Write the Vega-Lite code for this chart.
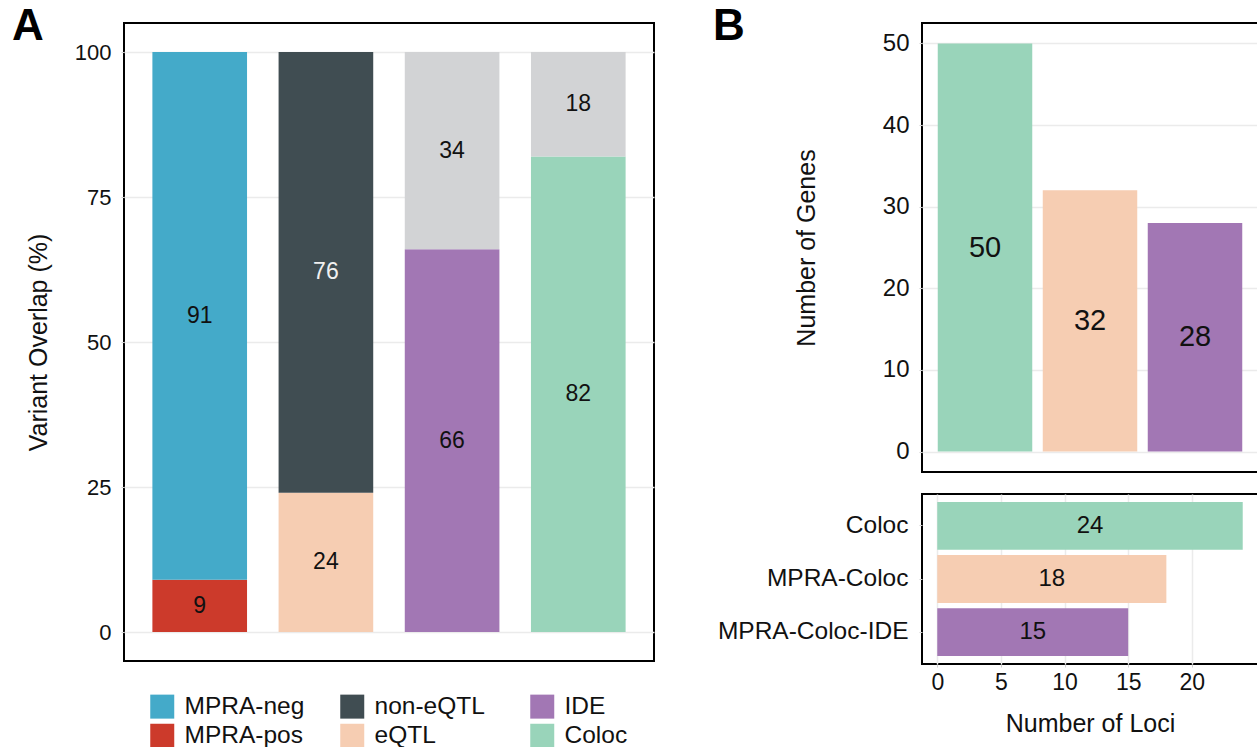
{
  "$schema": "https://vega.github.io/schema/vega-lite/v6.json",
  "background": "white",
  "padding": {"left": 11, "top": 4, "right": 0, "bottom": 0},
  "config": {
    "font": "Liberation Sans",
    "view": {"stroke": "black", "strokeWidth": 2},
    "axis": {
      "domain": false,
      "gridColor": "#EBEBEB",
      "gridWidth": 1.5,
      "tickColor": "#D0D0D0",
      "tickSize": 3,
      "labelColor": "#111111",
      "titleColor": "#111111",
      "titleFontWeight": "normal",
      "labelFont": "Liberation Sans",
      "titleFont": "Liberation Sans"
    },
    "title": {"fontSize": 44, "fontWeight": "bold", "anchor": "start", "frame": "group", "font": "Liberation Sans", "offset": 0, "color": "black"},
    "legend": {"labelFont": "Liberation Sans", "labelColor": "#111111", "layout": {"bottom": {"anchor": "middle"}}}
  },
  "datasets": {
    "overlap": [
      {"group": "MPRA", "cat": "MPRA-pos", "part": "lower", "value": 9},
      {"group": "MPRA", "cat": "MPRA-neg", "part": "upper", "value": 91},
      {"group": "eQTL", "cat": "eQTL", "part": "lower", "value": 24},
      {"group": "eQTL", "cat": "non-eQTL", "part": "upper", "value": 76},
      {"group": "IDE", "cat": "IDE", "part": "lower", "value": 66},
      {"group": "IDE", "cat": "IDE-rest", "part": "upper", "value": 34},
      {"group": "Coloc", "cat": "Coloc", "part": "lower", "value": 82},
      {"group": "Coloc", "cat": "Coloc-rest", "part": "upper", "value": 18}
    ],
    "genes": [
      {"set": "Coloc", "n": 50},
      {"set": "MPRA-Coloc", "n": 32},
      {"set": "MPRA-Coloc-IDE", "n": 28}
    ],
    "loci": [
      {"set": "Coloc", "n": 24},
      {"set": "MPRA-Coloc", "n": 18},
      {"set": "MPRA-Coloc-IDE", "n": 15}
    ]
  },
  "resolve": {"scale": {"color": "independent"}, "legend": {"color": "independent"}},
  "spacing": 57,
  "hconcat": [
    {
      "width": 530,
      "height": 638,
      "title": {"text": "A", "dx": -112, "dy": 30},
      "data": {"name": "overlap"},
      "transform": [
        {"stack": "value", "groupby": ["group"], "sort": [{"field": "part"}], "as": ["lo", "hi"]},
        {"calculate": "(datum.lo + datum.hi) / 2", "as": "mid"}
      ],
      "encoding": {
        "x": {"field": "group", "type": "nominal", "sort": null, "axis": null,
              "scale": {"paddingInner": 0.25, "paddingOuter": 0.225}}
      },
      "layer": [
        {
          "mark": {"type": "bar"},
          "encoding": {
            "y": {"field": "lo", "type": "quantitative",
                  "scale": {"domain": [-5, 105], "nice": false, "zero": false},
                  "axis": {"values": [0, 25, 50, 75, 100], "title": "Variant Overlap (%)",
                           "titleFontSize": 25, "labelFontSize": 22, "labelPadding": 10, "titlePadding": 23}},
            "y2": {"field": "hi"},
            "color": {"field": "cat", "type": "nominal",
                      "scale": {"domain": ["MPRA-neg", "non-eQTL", "IDE", "MPRA-pos", "eQTL", "Coloc", "IDE-rest", "Coloc-rest"],
                                "range": ["#44AAC9", "#404D52", "#A277B4", "#CC3A2B", "#F6CDB2", "#99D4BA", "#D2D3D5", "#D2D3D5"]},
                      "legend": {"title": null, "orient": "bottom", "direction": "horizontal", "columns": 3,
                                 "values": ["MPRA-neg", "non-eQTL", "IDE", "MPRA-pos", "eQTL", "Coloc"],
                                 "symbolType": "square", "symbolSize": 576, "symbolStrokeWidth": 0, "symbolOpacity": 1,
                                 "labelFontSize": 24.5, "labelOffset": 10, "columnPadding": 35, "rowPadding": 3.5,
                                 "gridAlign": "all", "offset": 33}}
          }
        },
        {
          "mark": {"type": "text", "fontSize": 23, "baseline": "middle"},
          "encoding": {
            "y": {"field": "mid", "type": "quantitative"},
            "text": {"field": "value", "type": "quantitative"},
            "color": {"condition": {"test": "datum.cat === 'non-eQTL'", "value": "#F0F0F0"}, "value": "#111111"}
          }
        }
      ]
    },
    {
      "spacing": 20,
      "vconcat": [
        {
          "width": 336,
          "height": 449,
          "title": {"text": "B", "dx": -209, "dy": 30},
          "data": {"name": "genes"},
          "transform": [{"calculate": "datum.n / 2", "as": "mid"}],
          "encoding": {
            "x": {"field": "set", "type": "nominal", "sort": null, "axis": null,
                  "scale": {"paddingInner": 0.1, "paddingOuter": 0.15}}
          },
          "layer": [
            {
              "mark": {"type": "bar"},
              "encoding": {
                "y": {"field": "n", "type": "quantitative",
                      "scale": {"domain": [-2.5, 52.5], "nice": false, "zero": false},
                      "axis": {"values": [0, 10, 20, 30, 40, 50], "title": "Number of Genes",
                               "titleFontSize": 25, "labelFontSize": 24, "labelPadding": 10, "titlePadding": 63}},
                "y2": {"datum": 0},
                "color": {"field": "set", "type": "nominal", "sort": null,
                          "scale": {"domain": ["Coloc", "MPRA-Coloc", "MPRA-Coloc-IDE"], "range": ["#99D4BA", "#F6CDB2", "#A277B4"]},
                          "legend": null}
              }
            },
            {
              "mark": {"type": "text", "fontSize": 29, "baseline": "middle", "color": "#111111"},
              "encoding": {
                "y": {"field": "mid", "type": "quantitative"},
                "text": {"field": "n", "type": "quantitative"}
              }
            }
          ]
        },
        {
          "width": 336,
          "height": 170,
          "data": {"name": "loci"},
          "transform": [{"calculate": "datum.n / 2", "as": "mid"}],
          "encoding": {
            "y": {"field": "set", "type": "nominal", "sort": null,
                  "scale": {"paddingInner": 0.1, "paddingOuter": 0.15},
                  "axis": {"title": null, "labelFontSize": 24.5, "labelPadding": 11, "labelLimit": 400, "grid": false}}
          },
          "layer": [
            {
              "mark": {"type": "bar"},
              "encoding": {
                "x": {"field": "n", "type": "quantitative",
                      "scale": {"domain": [-1.2, 25.2], "nice": false, "zero": false},
                      "axis": {"values": [0, 5, 10, 15, 20], "title": "Number of Loci",
                               "titleFontSize": 25, "labelFontSize": 23, "labelPadding": 4, "titlePadding": 17}},
                "x2": {"datum": 0},
                "color": {"field": "set", "type": "nominal", "sort": null,
                          "scale": {"domain": ["Coloc", "MPRA-Coloc", "MPRA-Coloc-IDE"], "range": ["#99D4BA", "#F6CDB2", "#A277B4"]},
                          "legend": null}
              }
            },
            {
              "mark": {"type": "text", "fontSize": 24, "baseline": "middle", "color": "#111111"},
              "encoding": {
                "x": {"field": "mid", "type": "quantitative"},
                "text": {"field": "n", "type": "quantitative"}
              }
            }
          ]
        }
      ]
    }
  ]
}
